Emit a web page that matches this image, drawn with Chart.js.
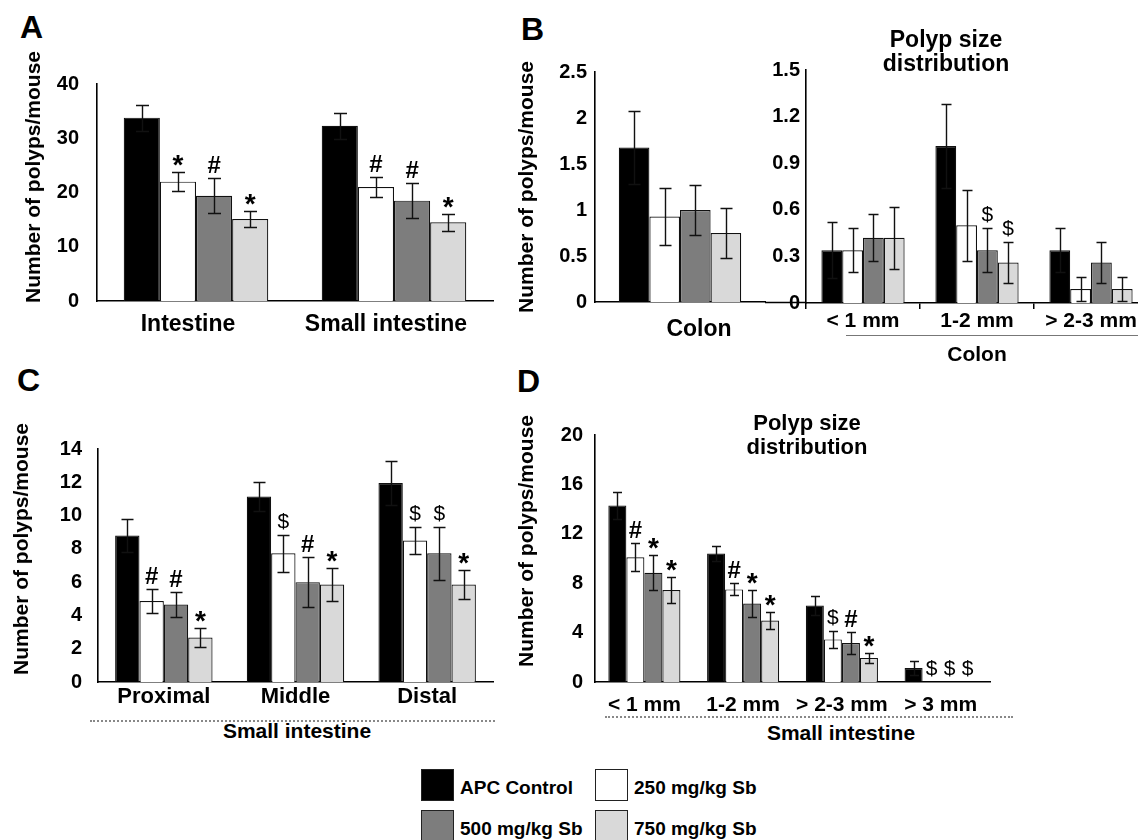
<!DOCTYPE html>
<html><head><meta charset="utf-8">
<script src="https://cdn.jsdelivr.net/npm/chart.js@4.4.0/dist/chart.umd.min.js"></script>
<style>
html,body{margin:0;padding:0;background:#fff;width:1138px;height:840px;overflow:hidden;}
body{position:relative;font-family:Arial,"Liberation Sans",Helvetica,sans-serif;font-weight:bold;color:#000;}
canvas{position:absolute;}
.t{position:absolute;white-space:nowrap;}
.yt{position:absolute;white-space:nowrap;font-size:21px;transform:translate(-50%,-50%) rotate(-90deg);}
.box{position:absolute;width:31px;height:30px;border:1.5px solid #222;}
.dots{position:absolute;height:0;border-top:2px dotted #888;}
.solid{position:absolute;height:0;border-top:1.5px solid #777;}
</style>
</head><body>
<script>
// ---------- DATA ----------
const seriesNames = ['APC Control', '250 mg/kg Sb', '500 mg/kg Sb', '750 mg/kg Sb'];
const seriesColors = ['#000000', '#ffffff', '#7d7d7d', '#d9d9d9'];

// Panel A
const catsA = ['Intestine', 'Small intestine'];
const apcA = [33.8, 32.3];
const sb250A = [22.0, 21.0];
const sb500A = [19.4, 18.5];
const sb750A = [15.1, 14.5];
const errApcA = [2.4, 2.4];
const err250A = [1.8, 1.9];
const err500A = [3.2, 3.2];
const err750A = [1.5, 1.6];
const sig250A = ['*', '#'];
const sig500A = ['#', '#'];
const sig750A = ['*', '*'];
const ticksA = [0, 10, 20, 30, 40];

// Panel B (colon)
const catsBc = ['Colon'];
const apcBc = [1.68];
const sb250Bc = [0.93];
const sb500Bc = [1.0];
const sb750Bc = [0.75];
const errApcBc = [0.40];
const err250Bc = [0.31];
const err500Bc = [0.27];
const err750Bc = [0.27];
const ticksBc = [0, 0.5, 1, 1.5, 2, 2.5];
const tickLabelsBc = ['0', '0.5', '1', '1.5', '2', '2.5'];

// Panel B (colon polyp size distribution)
const catsBs = ['< 1 mm', '1-2 mm', '> 2-3 mm'];
const apcBs = [0.34, 1.01, 0.34];
const sb250Bs = [0.34, 0.50, 0.09];
const sb500Bs = [0.42, 0.34, 0.26];
const sb750Bs = [0.42, 0.26, 0.09];
const errApcBs = [0.18, 0.27, 0.14];
const err250Bs = [0.14, 0.23, 0.08];
const err500Bs = [0.15, 0.14, 0.13];
const err750Bs = [0.20, 0.13, 0.08];
const sig500Bs = ['', '$', ''];
const sig750Bs = ['', '$', ''];
const ticksBs = [0, 0.3, 0.6, 0.9, 1.2, 1.5];
const tickLabelsBs = ['0', '0.3', '0.6', '0.9', '1.2', '1.5'];

// Panel C
const catsC = ['Proximal', 'Middle', 'Distal'];
const apcC = [8.8, 11.15, 11.95];
const sb250C = [4.87, 7.73, 8.5];
const sb500C = [4.65, 6.0, 7.73];
const sb750C = [2.67, 5.86, 5.86];
const errApcC = [1.0, 0.85, 1.3];
const err250C = [0.7, 1.1, 0.82];
const err500C = [0.75, 1.5, 1.6];
const err750C = [0.55, 1.0, 0.87];
const sig250C = ['#', '$', '$'];
const sig500C = ['#', '#', '$'];
const sig750C = ['*', '*', '*'];
const ticksC = [0, 2, 4, 6, 8, 10, 12, 14];

// Panel D
const catsD = ['< 1 mm', '1-2 mm', '> 2-3 mm', '> 3 mm'];
const apcD = [14.3, 10.4, 6.2, 1.13];
const sb250D = [10.1, 7.5, 3.45, 0];
const sb500D = [8.85, 6.35, 3.15, 0];
const sb750D = [7.45, 4.97, 1.95, 0];
const errApcD = [1.1, 0.6, 0.78, 0.57];
const err250D = [1.15, 0.48, 0.7, 0];
const err500D = [1.4, 1.1, 0.9, 0];
const err750D = [1.05, 0.7, 0.38, 0];
const sig250D = ['#', '#', '$', '$'];
const sig500D = ['*', '*', '#', '$'];
const sig750D = ['*', '*', '*', '$'];
const ticksD = [0, 4, 8, 12, 16, 20];

// ---------- PLUGINS ----------
const FONT = 'Arial, "Liberation Sans", Helvetica, sans-serif';

const errorBarPlugin = {
  id: 'errorBars',
  afterDatasetsDraw(chart, args, opts) {
    const ctx = chart.ctx, ys = chart.scales.y;
    chart.data.datasets.forEach((ds, i) => {
      const meta = chart.getDatasetMeta(i);
      meta.data.forEach((bar, j) => {
        const e = ds.errors ? ds.errors[j] : 0;
        if (!e) return;
        const v = ds.data[j];
        const yt = Math.round(ys.getPixelForValue(v + e)) + 0.5;
        const yb = Math.round(ys.getPixelForValue(Math.max(v - e, 0))) + 0.5;
        const x = Math.round(bar.x) + 0.5, c = opts.cap / 2;
        ctx.save();
        ctx.strokeStyle = '#111';
        ctx.lineWidth = 1.4;
        ctx.beginPath();
        ctx.moveTo(x, yt); ctx.lineTo(x, yb);
        ctx.moveTo(x - c, yt); ctx.lineTo(x + c, yt);
        ctx.moveTo(x - c, yb); ctx.lineTo(x + c, yb);
        ctx.stroke();
        ctx.restore();
      });
    });
  }
};

const sigPlugin = {
  id: 'sigMarks',
  afterDatasetsDraw(chart, args, opts) {
    const ctx = chart.ctx, ys = chart.scales.y;
    chart.data.datasets.forEach((ds, i) => {
      if (!ds.sig) return;
      const meta = chart.getDatasetMeta(i);
      meta.data.forEach((bar, j) => {
        const s = ds.sig[j];
        if (!s) return;
        const top = ys.getPixelForValue(ds.data[j] + (ds.errors[j] || 0));
        ctx.save();
        ctx.fillStyle = '#000';
        ctx.textAlign = 'center';
        ctx.textBaseline = 'alphabetic';
        let gap;
        if (s === '*') { ctx.font = 'bold ' + opts.star + 'px ' + FONT; gap = -2; }
        else if (s === '#') { ctx.font = 'bold ' + opts.hash + 'px ' + FONT; gap = 5; }
        else { ctx.font = opts.dollar + 'px ' + FONT; gap = 7; }
        ctx.fillText(s, bar.x, top - gap);
        ctx.restore();
      });
    });
  }
};

const extendAxisPlugin = {
  id: 'extendAxis',
  afterDraw(chart, args, opts) {
    if (!opts.length) return;
    const ctx = chart.ctx, a = chart.chartArea;
    ctx.save();
    ctx.strokeStyle = '#000';
    ctx.lineWidth = 1.6;
    ctx.beginPath();
    const y = Math.round(a.bottom) + 0.5;
    ctx.moveTo(a.right, y); ctx.lineTo(a.right + opts.length, y);
    ctx.stroke();
    ctx.restore();
  }
};

// ---------- CHART FACTORY ----------
function makeChart(cfg) {
  const {L, T, R, B} = cfg.area;
  const padTop = 16, padRight = cfg.padRight || 4;
  const left = L - cfg.yW, top = T - padTop;
  const w = (R - L) + cfg.yW + padRight, h = (B - T) + padTop + cfg.xH;
  const canvas = document.createElement('canvas');
  canvas.width = w; canvas.height = h;
  canvas.style.left = left + 'px'; canvas.style.top = top + 'px';
  canvas.style.width = w + 'px'; canvas.style.height = h + 'px';
  document.body.appendChild(canvas);
  const ticks = cfg.ticks;
  new Chart(canvas, {
    type: 'bar',
    data: {
      labels: cfg.labels,
      datasets: cfg.series.map((s, i) => ({
        label: seriesNames[i],
        data: s[0], errors: s[1], sig: s[2] || null,
        backgroundColor: seriesColors[i],
        borderColor: '#111', borderWidth: 1.2,
        categoryPercentage: cfg.catPct, barPercentage: 1
      }))
    },
    options: {
      responsive: false, animation: false, devicePixelRatio: 1,
      layout: {padding: {top: padTop, right: padRight, left: 0, bottom: 0}},
      plugins: {
        legend: {display: false}, tooltip: {enabled: false},
        errorBars: {cap: cfg.cap},
        sigMarks: {star: 28, hash: 24, dollar: 21},
        extendAxis: {length: cfg.extend || 0}
      },
      scales: {
        x: {
          grid: cfg.xTicks ? {display: true, drawOnChartArea: false, drawTicks: true, tickLength: 6, color: '#000', lineWidth: 1.5, offset: true}
                           : {display: false, drawTicks: false},
          border: {display: true, color: '#000', width: 1.6},
          ticks: {color: '#000', font: {family: FONT, size: cfg.xFont || 21, weight: 'bold'}, padding: cfg.xPad, labelOffset: cfg.labelOffset || 0, maxRotation: 0, autoSkip: false},
          afterFit(s) { s.height = cfg.xH; }
        },
        y: {
          min: ticks[0], max: ticks[ticks.length - 1],
          afterBuildTicks(s) { s.ticks = ticks.map(v => ({value: v})); },
          grid: {display: false, drawTicks: false},
          border: {display: true, color: '#000', width: 1.6},
          ticks: {
            color: '#000', font: {family: FONT, size: cfg.yFont || 20, weight: 'bold'}, padding: cfg.yPad,
            callback: (v, idx) => cfg.tickLabels ? cfg.tickLabels[idx] : String(v)
          },
          afterFit(s) { s.width = cfg.yW; }
        }
      }
    },
    plugins: [errorBarPlugin, sigPlugin, extendAxisPlugin]
  });
}

makeChart({
  area: {L: 97, T: 70, R: 493, B: 301}, yW: 75, xH: 50, yPad: 18, xPad: 10, catPct: 0.73, cap: 13,
  xFont: 23, labelOffset: -8,
  labels: catsA, ticks: ticksA,
  series: [[apcA, errApcA], [sb250A, err250A, sig250A], [sb500A, err500A, sig500A], [sb750A, err750A, sig750A]]
});
makeChart({
  area: {L: 595, T: 68, R: 765, B: 302}, yW: 60, xH: 50, yPad: 8, xPad: 14, catPct: 0.72, cap: 12,
  xFont: 23, labels: catsBc, ticks: ticksBc, tickLabels: tickLabelsBc, extend: 41, padRight: 45, labelOffset: 19,
  series: [[apcBc, errApcBc], [sb250Bc, err250Bc], [sb500Bc, err500Bc], [sb750Bc, err750Bc]]
});
makeChart({
  area: {L: 806, T: 68, R: 1148, B: 303}, yW: 50, xH: 40, yPad: 6, xPad: 0, catPct: 0.73, cap: 10, xTicks: true,
  xFont: 21, labels: catsBs, ticks: ticksBs, tickLabels: tickLabelsBs,
  series: [[apcBs, errApcBs], [sb250Bs, err250Bs], [sb500Bs, err500Bs, sig500Bs], [sb750Bs, err750Bs, sig750Bs]]
});
makeChart({
  area: {L: 98, T: 437, R: 493, B: 682}, yW: 75, xH: 34, yPad: 16, xPad: 2, catPct: 0.74, cap: 12,
  xFont: 22, labels: catsC, ticks: ticksC,
  series: [[apcC, errApcC], [sb250C, err250C, sig250C], [sb500C, err500C, sig500C], [sb750C, err750C, sig750C]]
});
makeChart({
  area: {L: 595, T: 427, R: 990, B: 682}, yW: 60, xH: 34, yPad: 12, xPad: 11, catPct: 0.73, cap: 9,
  xFont: 21, labels: catsD, ticks: ticksD,
  series: [[apcD, errApcD], [sb250D, err250D, sig250D], [sb500D, err500D, sig500D], [sb750D, err750D, sig750D]]
});

// ---------- TEXT / DECORATION ----------
function text(str, x, baseline, size, opts) {
  const d = document.createElement('div');
  d.className = 't';
  d.textContent = str;
  d.style.fontSize = size + 'px';
  d.style.lineHeight = size + 'px';
  d.style.top = (baseline - 0.8465 * size) + 'px';
  d.style.left = x + 'px';
  if (opts && opts.center) d.style.transform = 'translateX(-50%)';
  document.body.appendChild(d);
}
function ytitle(str, cx, cy) {
  const d = document.createElement('div');
  d.className = 'yt'; d.textContent = str;
  d.style.left = cx + 'px'; d.style.top = cy + 'px';
  document.body.appendChild(d);
}
function line(cls, x1, x2, y) {
  const d = document.createElement('div');
  d.className = cls;
  d.style.left = x1 + 'px'; d.style.width = (x2 - x1) + 'px'; d.style.top = y + 'px';
  document.body.appendChild(d);
}

text('A', 20, 38, 32);
text('B', 521, 40, 32);
text('C', 17, 391, 32);
text('D', 517, 392, 32);

const yTitle = 'Number of polyps/mouse';
ytitle(yTitle, 33, 177);
ytitle(yTitle, 526, 187);
ytitle(yTitle, 21, 549);
ytitle(yTitle, 526, 541);

text('Polyp size', 946, 47.7, 23, {center: true});
text('distribution', 946, 71.7, 23, {center: true});
text('Polyp size', 807, 430.7, 22, {center: true});
text('distribution', 807, 455, 22, {center: true});

line('solid', 846, 1138, 335);
text('Colon', 977, 361, 21, {center: true});
line('dots', 90, 495, 720);
text('Small intestine', 297, 738, 21, {center: true});
line('dots', 605, 1013, 716);
text('Small intestine', 841, 740, 21, {center: true});

// legend
const legendPos = [[421, 769], [595, 769], [421, 810], [595, 810]];
seriesNames.forEach((n, i) => {
  const b = document.createElement('div');
  b.className = 'box';
  b.style.left = legendPos[i][0] + 'px'; b.style.top = legendPos[i][1] + 'px';
  b.style.background = seriesColors[i];
  document.body.appendChild(b);
  text(n, legendPos[i][0] + 39, legendPos[i][1] + 25, 19);
});
</script>
</body></html>
